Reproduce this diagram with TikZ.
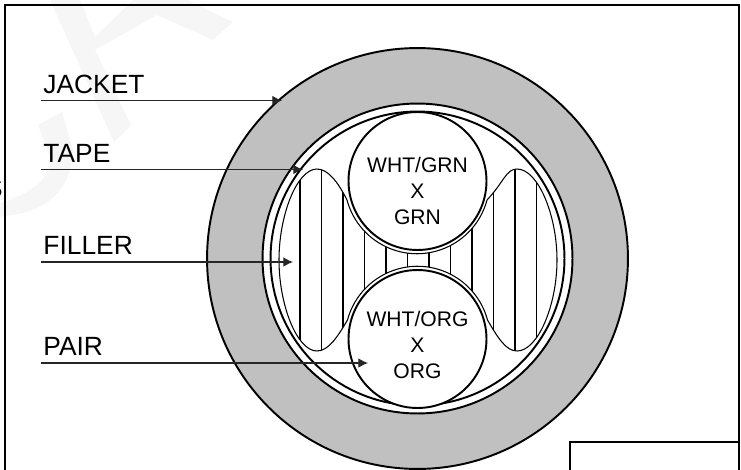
\documentclass[tikz,border=0pt]{standalone}
\usepackage{fontspec}
\setmainfont{Liberation Sans}
\usetikzlibrary{arrows.meta, positioning, calc}
\definecolor{JacketGray}{RGB}{192, 192, 192}
\definecolor{MarkGray}{RGB}{246, 246, 246}
\newcommand{\fillerpath}{(347,200) arc[start angle=195, end angle=345, radius=1.45cm]
    .. controls (504,182) and (506,169) .. (517,169)
    .. controls (538,169) and (557,215) .. (557,260)
    .. controls (557,305) and (538,351) .. (517,351)
    .. controls (506,351) and (498,338) .. (487.5,320)
    arc[start angle=15, end angle=165, radius=1.45cm]
    .. controls (337,338) and (328,351) .. (317,351)
    .. controls (297,351) and (279,305) .. (279,260)
    .. controls (279,215) and (297,169) .. (317,169)
    .. controls (328,169) and (338,182) .. (347,200) -- cycle}

\begin{document}
\begin{tikzpicture}[
        x=0.02cm, y=-0.02cm,
        ring/.style={circle, draw=black, line width=1.1pt, inner sep=0pt},
        pair/.style={ring, fill=white, minimum size=2.76cm},
        pairtext/.style={align=center, font=\fontsize{12}{14.8}\selectfont},
        label/.style={anchor=south west, inner xsep=1.2pt, inner ysep=3.8pt, text depth=0pt, font=\fontsize{15}{18}\selectfont},
        leader/.style={-{Latex[length=5.5pt, width=5.5pt]}, line width=0.75pt, black!85},
        frame/.style={draw=black, line width=1.2pt},
        strand/.style={black, line width=1pt}
    ]
        \useasboundingbox (0,0) rectangle (741,470);

        % Background mark
        \fill[MarkGray] (50,0) -- (114,142) -- (131,125) -- (95,50) -- (157,15) -- (213,40) -- (233,22) -- (187,0) -- (133,0) -- (95,37) -- (80,0) -- cycle;
        \fill[MarkGray] (38,125) -- (62,112) -- (73,150) .. controls (72,190) and (45,212) .. (10,215) -- (0,217) -- (0,203) .. controls (30,195) and (55,175) .. (50,157) -- cycle;

        % Frame
        \draw[frame] (5,470) -- (5,5) -- (739,5) -- (739,470);
        \draw[frame] (570,470) -- (570,442) -- (739,442);

        % Cable
        \node[ring, fill=JacketGray, minimum size=8.42cm] (jacket) at (417.5,258.5) {};
        \node[ring, fill=white, minimum size=6.2cm] (shield) at (jacket.center) {};
        \node[ring, minimum size=5.88cm] (tape) at (jacket.center) {};

        % Filler
        \draw[black, line width=0.6pt, fill=white] \fillerpath;
        \begin{scope}
            \clip \fillerpath;
            \foreach \x in {300,321.5,343,364.5,386,407.5,429,450.5,472,493.5,515,536.5}
                \draw[strand] (\x,160) -- (\x,360);
        \end{scope}

        % Pairs
        \node[pair] (pairGrn) at (417.5,181) {};
        \node[pair] (pairOrg) at (417.5,339) {};
        \node[pairtext] (textGrn) at (417.5,191) {WHT/GRN\\X\\GRN};
        \node[pairtext] (textOrg) at (417.5,345) {WHT/ORG\\X\\ORG};

        % Labels
        \node[label] (lblJacket) at (41,100.5) {JACKET};
        \node[label] (lblTape) at (41,169.5) {TAPE};
        \node[label] (lblFiller) at (41,262) {FILLER};
        \node[label] (lblPair) at (41,363) {PAIR};
        \node[anchor=east, inner sep=0pt, font=\fontsize{15}{18}\selectfont] (lblCut) at (3,188) {S};

        \coordinate (endJacket) at (282,100.5);
        \coordinate (endTape) at (303,169.5);
        \coordinate (endFiller) at (293,262);
        \coordinate (endPair) at (368,363);

        % Arrows
        \draw[leader] (lblJacket.south west) -- (endJacket);
        \draw[leader] (lblTape.south west) -- (endTape);
        \draw[leader] (lblFiller.south west) -- (endFiller);
        \draw[leader] (lblPair.south west) -- (endPair);
    \end{tikzpicture}
\end{document}
